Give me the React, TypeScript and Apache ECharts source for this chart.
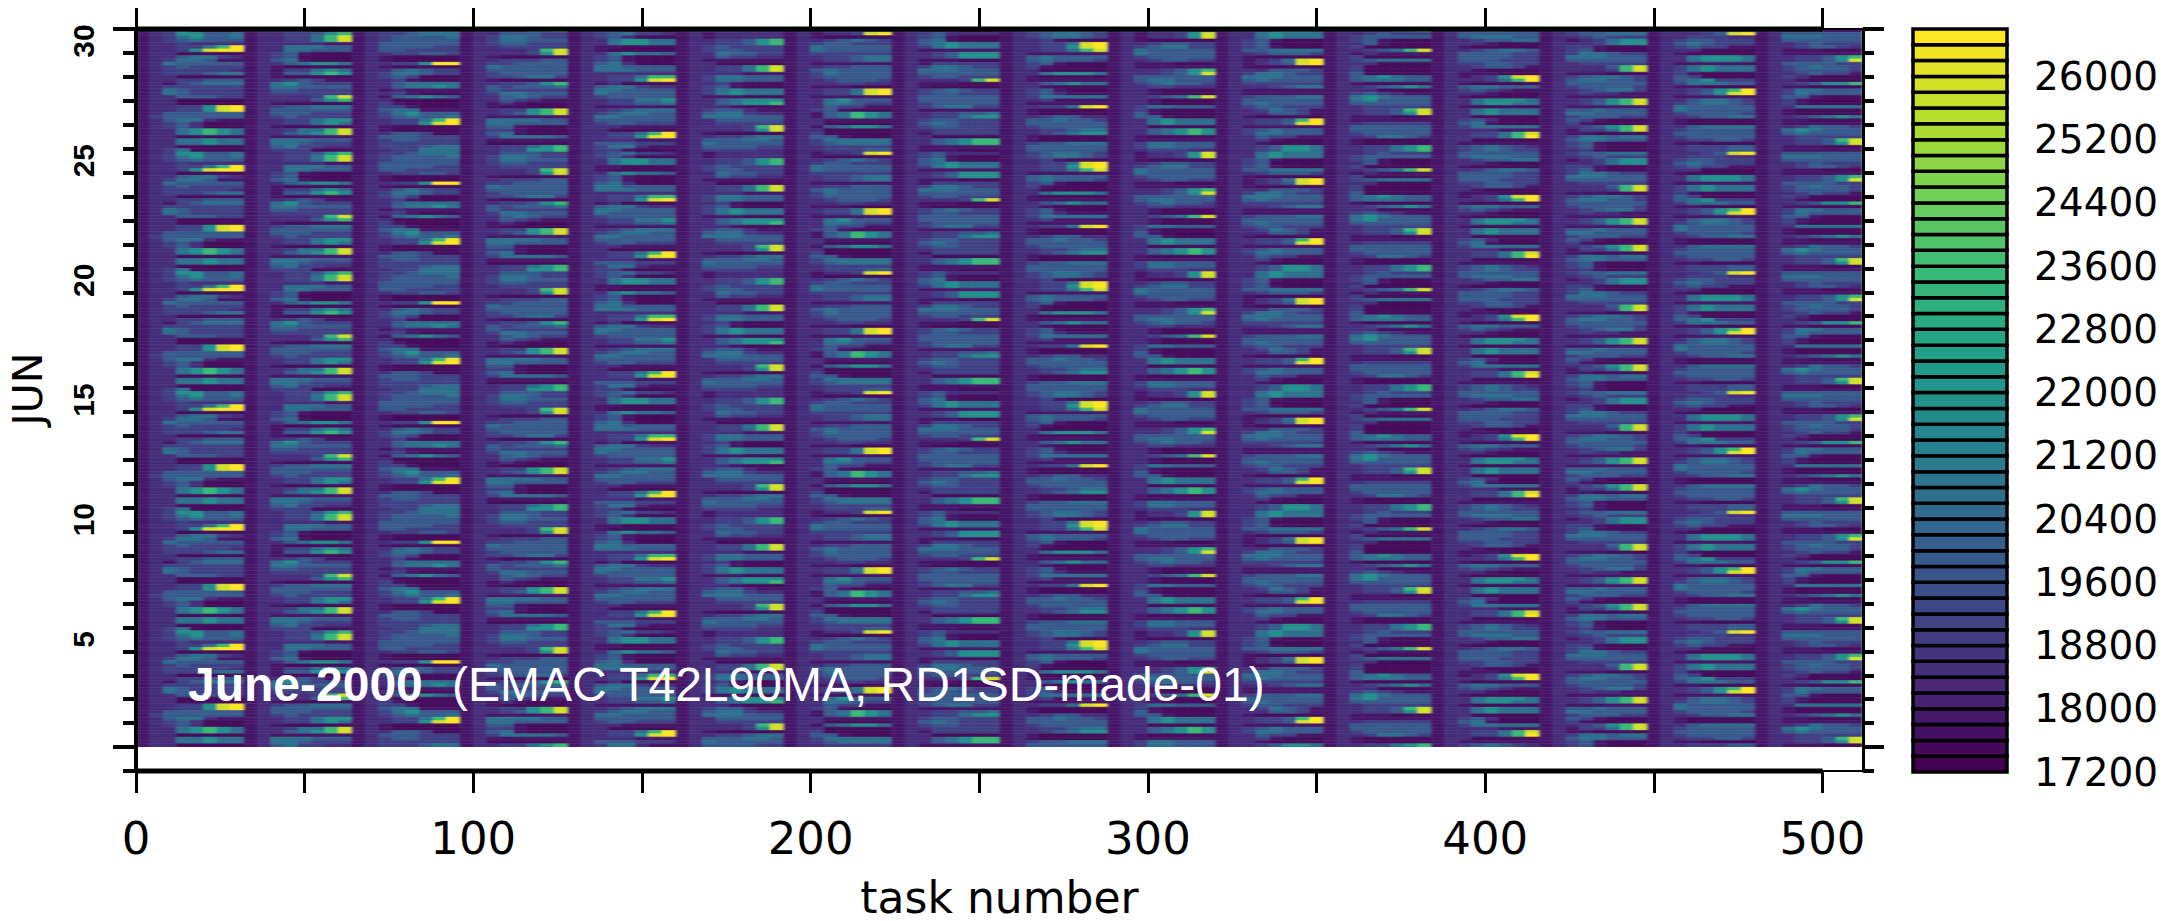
import React, { useEffect, useRef } from "react";
import * as echarts from "echarts";

// Colour-class codes (digit in the rows below) -> value read against the colour bar.
const codeValues = [17400, 17900, 18500, 19100, 19800, 20700, 21800, 23400, 25800, 26500];
// The second column of every block is never darker than class 2.
const columnFloor = [0, 2, 0, 0, 0, 0, 0, 0];

const xTicks = [0, 50, 100, 150, 200, 250, 300, 350, 400, 450, 500];
const xLabels = [0, 100, 200, 300, 400, 500];
const dayLabels = [5, 10, 15, 20, 25, 30];
const dayBoundaries = [-0.5,0.5,1.5,2.5,3.5,4.5,5.5,6.5,7.5,8.5,9.5,10.5,11.5,12.5,13.5,14.5,15.5,16.5,17.5,18.5,19.5,20.5,21.5,22.5,23.5,24.5,25.5,26.5,27.5,28.5,29.5,30.5];
const dataEdges = [0.5, 30.5];
const colorbarLabels = [17200,18000,18800,19600,20400,21200,22000,22800,23600,24400,25200,26000];
const viridis = ["#440154","#482878","#3e4989","#31688e","#26828e","#1f9e89","#35b779","#6ece58","#b5de2b","#fde725"];

// Each block = 32 tasks; each string = one time row (8 columns of 4 tasks), one 5-day pattern, top to bottom.
const block01 = ["11366445","11356445","11345444","11232222","11233579","11236899","11200000","11245532","11355411","12544444","12343333","12333332","12333455","11200000","11233444","11134555","11333333","12543333","11543333","11244433","11200000","11200000","11233689","12233689","12444444","13444444","11455211","11342000","11342000","11256765","11256765","11200000","11255655","11255655","11200000","11350000"];
const block02 = ["11233467","11233578","11233578","12222211","11255544","11255444","11341000","11340000","11451000","11245665","11100000","11133565","11144676","11100000","11234311","12564333","12554444","12443333","12333333","11222378","11222467","11100000","11344555","12444444","12444333","12343333","11233566","11233565","11100000","11235578","11245678","12111111","12555444","12554333","12453322","11333000"];
const block03 = ["11334555","11344445","11344444","12444444","12444433","12443333","11233443","11100000","11100000","11233699","11100000","11245433","11355433","11343000","11231000","11245555","11245565","11121111","11231000","11145654","11200000","11310000","11331000","11455111","11356444","11345445","11233579","11233689","11100000","11100000","11244300","12444333","12344333","12333333","12333455","11233555"];
const block04 = ["11244433","11355433","11355444","11344333","11233333","11222378","11222368","11100000","11233344","11334444","11544444","11444444","11344444","11334553","11100000","11233467","11434445","11433333","11355444","11245433","11243211","11121000","11100000","11233678","11234678","11111111","11555544","11554444","11441000","11331000","11451000","11355554","11111111","11000000","11233567","11233667"];
const block05 = ["11345332","11342000","11256655","11256655","12110000","12100000","11256554","11341000","11341000","11452000","11554444","11555444","12222222","11233577","11233689","11120000","11455322","12554444","12544444","11344444","11233556","11233445","11111111","11234555","11345544","12554444","12444444","11344333","11221111","11200000","11233579","11233689","12222111","12444333","11355211","11331000"];
const block06 = ["11122222","11122222","11233467","11233467","11343333","11344333","11254433","11243322","11111111","11200000","11233578","11233578","12222111","11355444","11355444","11231000","11341000","11356555","11356555","11111000","11245666","11245667","11221000","11344211","11455322","12555444","11244444","11233333","11222378","11222368","11100000","11233455","11444554","12544444","12444433","11333322"];
const block07 = ["11122389","11100000","11234543","11344333","11544444","11544444","11333333","11233455","11233455","11111111","11233444","11454444","11354444","11344444","11234443","11223322","11111000","11233589","11233589","11111111","11256444","11255433","11243311","11341000","11145765","11145765","12211111","12200000","11145665","11200000","11300000","11441000","11355555","11345555","11233333","11233344"];
const block08 = ["11342222","11341000","11451000","11456555","11356555","11111111","11234666","11234666","11111000","11133333","11355433","11555444","12444444","11344333","11222378","11111000","11100000","11345433","11344333","11444444","11444444","11344444","11345533","11111111","11233445","11233566","11344333","11454333","11344333","11233333","11133333","11200000","11245677","11245677","11111111","11111000"];
const block09 = ["11345543","11345543","11231000","11233589","11233689","11233578","11111111","11454444","11454443","11341000","11310000","11200000","11256665","12100000","11111111","11245655","11210000","11341000","11342111","11355555","11231111","11111111","11233589","11100000","11100000","11234422","11445443","12444444","12344444","11233455","11234566","11100000","11100000","11344555","12444444","12444444"];
const block10 = ["11122368","11122368","11100000","11234433","11345533","11544444","11544444","11344444","11234433","11111000","11111111","11223467","11223468","11444444","11455444","11345443","11233222","11210000","11210000","11234578","11210000","11210000","11355444","11310000","11410000","11441000","11256555","11256555","11200000","11245676","11245676","11100000","11111111","11355444","11355444","11233322"];
const block11 = ["11256555","11256555","11341000","11340000","11341000","11445555","11234443","11100000","11123589","11123489","11100000","11224443","11355433","11555444","11454444","11333333","11223455","11111111","11111111","11344455","11444444","11454444","11344333","11235431","11224431","11100000","11233479","11233489","11111111","11345444","11355444","11243311","11231000","11210000","11234665","11234665"];
const block12 = ["11234333","11344444","11341000","11241000","11300000","11234578","11121111","11300000","11345555","11220000","11300000","11300000","11400000","11456544","11455544","11100000","11234565","11220000","11343211","11565444","11564444","11444444","11233333","11233478","11233468","11111000","11111111","11233333","11444444","11444444","11344444","11235543","11100000","11100000","11233567","11233567"];
const block13 = ["11444444","11455544","11234455","11221000","11100000","11234554","12444433","12444433","11444333","11334433","11234431","11210000","11111000","11123689","11223579","11100000","11455444","11343211","11221000","11100000","11256665","11256655","12100000","11256555","11256555","11200000","11342000","11451000","11355555","11222111","11233578","11233579","11200000","11111111","11345432","11345433"];
const block14 = ["11344555","11234333","11123566","11223566","11331000","11341000","11355433","11555444","11444444","11233333","11222478","11222378","11111000","11345543","12455443","12444444","11344443","11234553","11232211","11111111","11234678","11234678","11111111","11445444","11554444","11344433","11431000","11310000","11234678","11133578","11110000","11355455","11455444","11341000","11341000","11231000"];
const block15 = ["11223489","11233322","11344333","11454333","11343311","11220000","11100000","11256665","11256665","12111111","11356555","11356555","11310000","11430000","11456333","11355544","11110000","11234679","11234689","11111111","11245543","11345543","11544444","11544444","11344443","11234455","11100000","11100000","11245555","11344444","11444444","11344444","11233443","11110000","11233344","11233344"];
const block16 = ["11444444","11555444","11444444","11234333","11234432","11111000","11111111","11233467","11233468","11444433","11345443","11344443","11234331","11320000","11210000","11234667","11110000","11355444","11354444","11441000","11310000","11310000","11255555","11100000","11100000","11234565","11110000","11111111","11235443","11565444","11454444","11233333","11233478","11233468","11111000","11111111"];

const blocks = [block01,block02,block03,block04,block05,block06,block07,block08,block09,block10,block11,block12,block13,block14,block15,block16];
const thickSpan = [0, 500];

const COLOR_MIN = 17200;
const COLOR_MAX = 26600;
const STEP = 200;

function hexToRgb(h: string) {
  return [parseInt(h.slice(1, 3), 16), parseInt(h.slice(3, 5), 16), parseInt(h.slice(5, 7), 16)];
}
function levelColor(v: number) {
  const level = Math.min(Math.floor((v - COLOR_MIN) / STEP), 46);
  const t = (level / 46) * (viridis.length - 1);
  const i = Math.min(Math.floor(t), viridis.length - 2);
  const a = hexToRgb(viridis[i]);
  const b = hexToRgb(viridis[i + 1]);
  const f = t - i;
  return `rgb(${a.map((c, k) => Math.round(c + (b[k] - c) * f)).join(",")})`;
}

const ROWS_PER_DAY = 7.2;
const TOTAL_ROWS = 216;
const COL_TASKS = 4;
const heatData: number[][] = [];
blocks.forEach((rows, b) => {
  for (let t = 0; t < TOTAL_ROWS; t++) {
    const row = rows[(t + 35) % 36];
    for (let c = 0; c < 8; c++) {
      const x0 = b * 32 + c * COL_TASKS;
      const code = Math.max(+row[c], columnFloor[c]);
      heatData.push([x0, x0 + COL_TASKS, 30.5 - t / ROWS_PER_DAY, 30.5 - (t + 1) / ROWS_PER_DAY, codeValues[code]]);
    }
  }
});
const levelData: number[][] = [];
for (let v = COLOR_MIN; v < COLOR_MAX; v += STEP) levelData.push([0, 1, v, v + STEP]);

const SANS = "DejaVu Sans";
const PLOT_GRID = { left: 136, top: 29, width: 1727, height: 742, outerBoundsMode: "none" };

function yAxisBase(position: string) {
  return {
    type: "value", gridIndex: 0, position, min: -0.5, max: 30.5,
    splitLine: { show: false }, axisLabel: { show: false },
    axisLine: { show: false, onZero: false }, axisTick: { show: false },
  };
}

export default function App() {
  const ref = useRef<HTMLDivElement>(null);
  const heatRef = useRef<HTMLDivElement>(null);
  useEffect(() => {
    document.body.style.margin = "0";
    const heat = echarts.init(heatRef.current!, undefined, { renderer: "svg" });
    heat.setOption({
      animation: false,
      grid: PLOT_GRID,
      xAxis: { type: "value", min: 0, max: 512, show: false },
      yAxis: { type: "value", min: -0.5, max: 30.5, show: false },
      series: [
        {
          type: "custom", data: heatData, silent: true, progressive: 0, clip: true,
          encode: { x: [0, 1], y: [2, 3] },
          renderItem: (_p: any, api: any) => {
            const a = api.coord([api.value(0), api.value(2)]);
            const b = api.coord([api.value(1), api.value(3)]);
            const fill = levelColor(api.value(4));
            return {
              type: "rect",
              shape: { x: a[0], y: a[1], width: b[0] - a[0], height: b[1] - a[1] },
              style: { fill, stroke: fill, lineWidth: 0.6 },
            };
          },
        },
      ],
    });
    const chart = echarts.init(ref.current!, undefined, { renderer: "svg" });
    chart.setOption({
      animation: false,
      backgroundColor: "transparent",
      grid: [PLOT_GRID, { left: 1913, top: 29, width: 94, height: 743, outerBoundsMode: "none" }],
      xAxis: [
        {
          type: "value", gridIndex: 0, position: "bottom", min: 0, max: 512,
          splitLine: { show: false },
          axisLine: { onZero: false, lineStyle: { color: "#000", width: 2 } },
          axisTick: { customValues: xTicks, length: 22, lineStyle: { color: "#000", width: 3 } },
          axisLabel: { customValues: xLabels, color: "#000", fontFamily: SANS, fontSize: 45, margin: 45, formatter: (v: number) => String(v) },
          name: "task number", nameLocation: "middle", nameGap: 104,
          nameTextStyle: { color: "#000", fontFamily: SANS, fontSize: 44 },
        },
        {
          type: "value", gridIndex: 0, position: "top", min: 0, max: 512,
          splitLine: { show: false },
          axisLine: { onZero: false, lineStyle: { color: "#000", width: 2 } },
          axisTick: { customValues: xTicks, length: 21, lineStyle: { color: "#000", width: 3 } },
          axisLabel: { show: false },
        },
        { type: "value", gridIndex: 1, min: 0, max: 1, show: false },
      ],
      yAxis: [
        {
          ...yAxisBase("left"),
          axisLine: { show: true, onZero: false, lineStyle: { color: "#000", width: 4 } },
          axisTick: { show: true, customValues: dayBoundaries, length: 13, lineStyle: { color: "#000", width: 4 } },
          axisLabel: {
            show: true, customValues: dayLabels, rotate: 90, color: "#000",
            fontFamily: "Liberation Sans", fontWeight: "bold", fontSize: 30, margin: 38,
          },
          name: "JUN", nameLocation: "middle", nameGap: 88, nameRotate: 90,
          nameTextStyle: { color: "#000", fontFamily: SANS, fontSize: 41, padding: [0, 0, 0, 22] },
        },
        {
          ...yAxisBase("left"),
          axisTick: { show: true, customValues: dataEdges, length: 23, lineStyle: { color: "#000", width: 4 } },
        },
        {
          ...yAxisBase("right"),
          axisLine: { show: true, onZero: false, lineStyle: { color: "#000", width: 3 } },
          axisTick: { show: true, customValues: dayBoundaries, length: 11, lineStyle: { color: "#000", width: 4 } },
        },
        {
          ...yAxisBase("right"),
          axisTick: { show: true, customValues: dataEdges, length: 21, lineStyle: { color: "#000", width: 4 } },
        },
        {
          type: "value", gridIndex: 1, position: "right", min: COLOR_MIN, max: COLOR_MAX,
          splitLine: { show: false }, axisLine: { show: false, onZero: false }, axisTick: { show: false },
          axisLabel: { customValues: colorbarLabels, color: "#000", fontFamily: SANS, fontSize: 39, margin: 27, formatter: (v: number) => String(v) },
        },
      ],
      series: [
        {
          type: "custom", xAxisIndex: 2, yAxisIndex: 4, data: levelData, silent: true, clip: false,
          encode: { x: [0, 1], y: [2, 3] },
          renderItem: (_p: any, api: any) => {
            const a = api.coord([api.value(0), api.value(3)]);
            const b = api.coord([api.value(1), api.value(2)]);
            return {
              type: "rect",
              shape: { x: a[0], y: a[1], width: b[0] - a[0], height: b[1] - a[1] },
              style: { fill: levelColor(api.value(2)), stroke: "#000", lineWidth: 3.5 },
            };
          },
        },
        {
          type: "line", xAxisIndex: 0, yAxisIndex: 0, silent: true, showSymbol: false, clip: false,
          data: [[thickSpan[0], 30.5], [thickSpan[1], 30.5]], lineStyle: { color: "#000", width: 5 },
        },
        {
          type: "line", xAxisIndex: 0, yAxisIndex: 0, silent: true, showSymbol: false, clip: false,
          data: [[thickSpan[0], -0.5], [thickSpan[1], -0.5]], lineStyle: { color: "#000", width: 5 },
        },
      ],
      graphic: [
        {
          type: "text", left: 188, top: 660, z: 100,
          style: { text: "June-2000", fill: "#fff", fontFamily: "Liberation Sans", fontWeight: "bold", fontSize: 48 },
        },
        {
          type: "text", left: 452, top: 660, z: 100,
          style: { text: "(EMAC T42L90MA, RD1SD-made-01)", fill: "#fff", fontFamily: "Liberation Sans", fontSize: 48 },
        },
      ],
    });
    return () => {
      chart.dispose();
      heat.dispose();
    };
  }, []);
  return (
    <div style={{ position: "relative", width: 2182, height: 921, background: "#fff", overflow: "hidden" }}>
      <svg width="0" height="0" style={{ position: "absolute" }}>
        <filter id="soften" x="0" y="0" width="100%" height="100%">
          <feGaussianBlur stdDeviation="1.4 0.7" />
        </filter>
      </svg>
      <div style={{ position: "absolute", left: 136, top: 29, width: 1727, height: 718, overflow: "hidden" }}>
        <div
          ref={heatRef}
          style={{ position: "absolute", left: -136, top: -29, width: 2182, height: 921, filter: "url(#soften)" }}
        />
      </div>
      <div ref={ref} style={{ position: "absolute", left: 0, top: 0, width: 2182, height: 921 }} />
    </div>
  );
}
